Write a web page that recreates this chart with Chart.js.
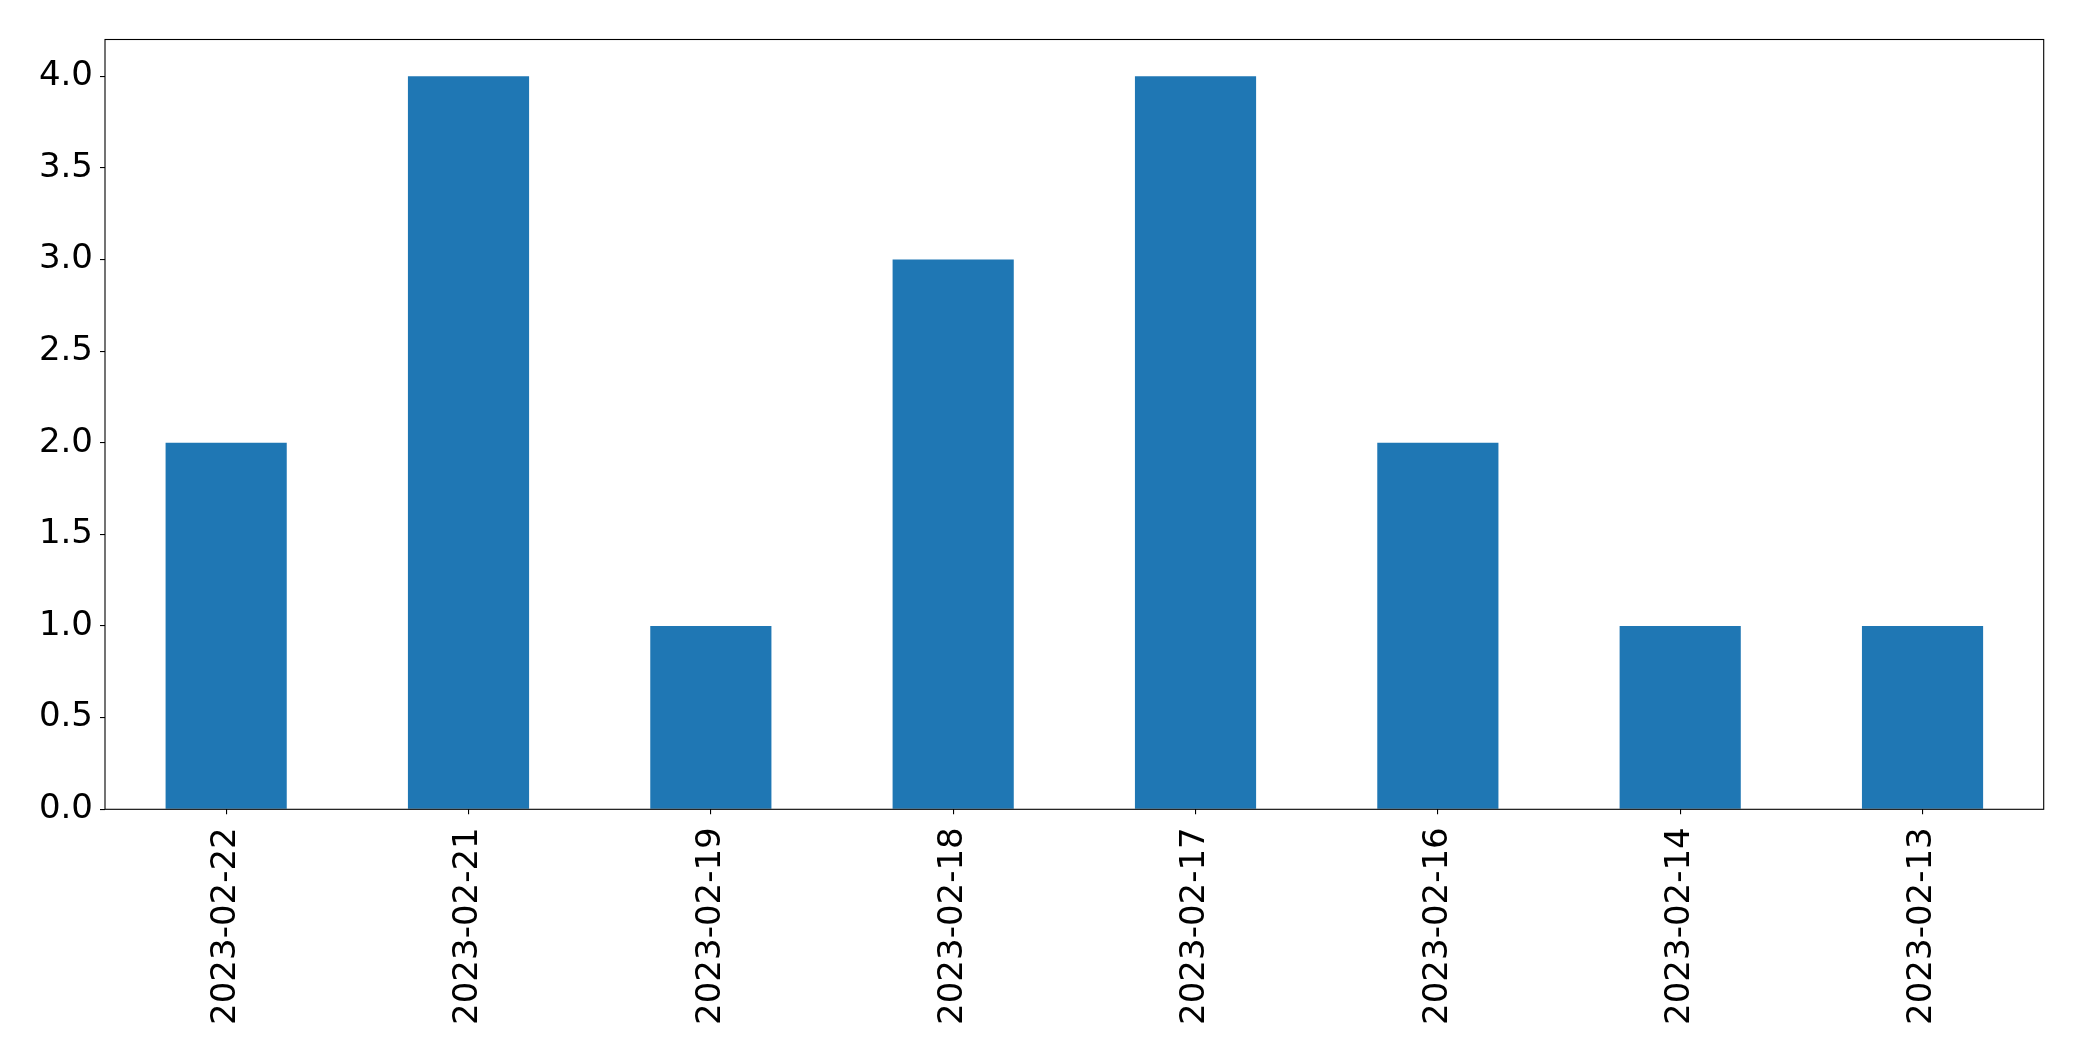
<!DOCTYPE html>
<html>
<head>
<meta charset="utf-8">
<script src="https://cdn.jsdelivr.net/npm/chart.js@4.4.1/dist/chart.umd.min.js"></script>
<style>
    html, body { margin: 0; padding: 0; background: #fff; }
    #wrap { width: 2082px; height: 1061px; }
</style>
</head>
<body>
<div id="wrap"><canvas id="chart" width="2082" height="1061"></canvas></div>
<script>
// Datos
const FECHAS = ['2023-02-22', '2023-02-21', '2023-02-19', '2023-02-18', '2023-02-17', '2023-02-16', '2023-02-14', '2023-02-13'];
const CONTEOS = [2, 4, 1, 3, 4, 2, 1, 1];
const Y_TICKS = [0, 0.5, 1, 1.5, 2, 2.5, 3, 3.5, 4];
const Y_MAX = 4.2;

const FONT = { family: 'DejaVu Sans', size: 34 };

// marco completo alrededor del area del grafico
const framePlugin = {
    id: 'frame',
    afterDatasetsDraw(chart) {
        const { ctx, chartArea: a } = chart;
        ctx.save();
        ctx.strokeStyle = '#000';
        ctx.lineWidth = 1.1;
        ctx.strokeRect(a.left, a.top, a.right - a.left, a.bottom - a.top);
        ctx.restore();
    }
};

const ctx = document.getElementById('chart').getContext('2d');
new Chart(ctx, {
    type: 'bar',
    data: {
        labels: FECHAS,
        datasets: [{
            data: CONTEOS,
            backgroundColor: '#1f77b4',
            borderWidth: 0,
            barPercentage: 0.5,
            categoryPercentage: 1.0
        }]
    },
    plugins: [framePlugin],
    options: {
        responsive: false,
        animation: false,
        layout: { padding: { top: 39.5, right: 38.3, left: 0, bottom: 0 } },
        plugins: {
            legend: { display: false },
            tooltip: { enabled: false }
        },
        scales: {
            x: {
                offset: true,
                grid: {
                    offset: false,
                    drawOnChartArea: false,
                    drawTicks: true,
                    tickLength: 5,
                    color: '#000',
                    lineWidth: 1.1
                },
                border: { display: false },
                ticks: {
                    color: '#000',
                    font: FONT,
                    minRotation: 90,
                    maxRotation: 90,
                    autoSkip: false,
                    padding: 13
                },
                afterFit(scale) { scale.height = 1061 - 809.3; }
            },
            y: {
                min: 0,
                max: Y_MAX,
                grid: {
                    drawOnChartArea: false,
                    drawTicks: true,
                    tickLength: 5,
                    color: '#000',
                    lineWidth: 1.1
                },
                border: { display: false },
                afterBuildTicks(scale) {
                    scale.ticks = Y_TICKS.map(v => ({ value: v }));
                },
                ticks: {
                    color: '#000',
                    font: FONT,
                    padding: 7,
                    callback: v => Number(v).toFixed(1)
                },
                afterFit(scale) { scale.width = 105; }
            }
        }
    }
});
</script>
</body>
</html>
